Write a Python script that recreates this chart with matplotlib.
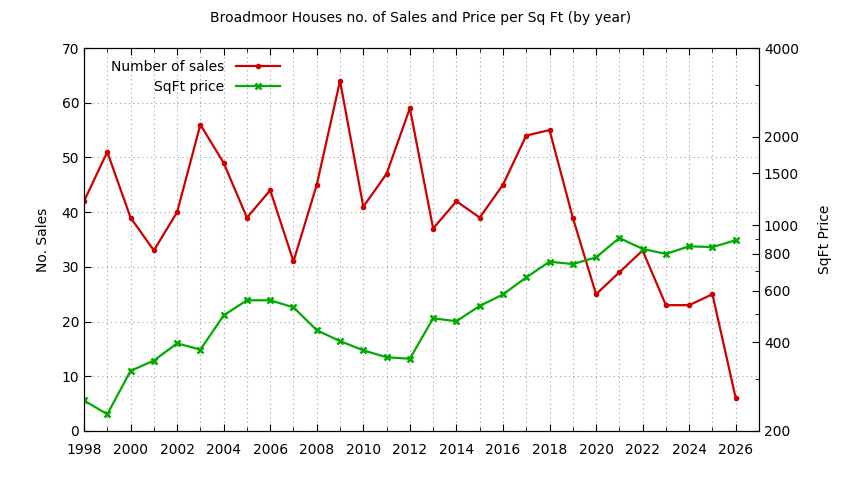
import matplotlib
matplotlib.use("Agg")
import matplotlib.pyplot as plt
from matplotlib.ticker import FixedLocator, NullFormatter, MultipleLocator

years = list(range(1998, 2027))
sales = [42, 51, 39, 33, 40, 56, 49, 39, 44, 31, 45, 64, 41, 47, 59, 37,
         42, 39, 45, 54, 55, 39, 25, 29, 33, 23, 23, 25, 6]
price = [254, 228, 320, 347, 397, 378, 494, 556, 556, 526, 440, 404, 376, 356, 352, 483,
         472, 532, 582, 665, 752, 738, 778, 905, 831, 799, 848, 843, 889]

price_ticks = [200, 400, 600, 800, 1000, 1500, 2000, 4000]
price_minor = [300, 500, 700, 900, 3000]

plt.rcParams['font.family'] = ['DejaVu Sans']
plt.rcParams['font.size'] = 10

fig = plt.figure(figsize=(8.44, 4.8), dpi=100)
ax = fig.add_axes([84/844, 1-431/480, (759-84)/844, (431-48)/480])
ax2 = ax.twinx()

red = '#cc0000'
green = '#00aa00'

l1, = ax.plot(years, sales, color=red, lw=1.6, marker='o', ms=3, label='Number of sales')
l2, = ax2.plot(years, price, color=green, lw=1.6, marker='x', ms=4.5, mew=1.8, label='SqFt price')

ax.set_xlim(1998, 2027)
ax.set_ylim(0, 70)
ax.xaxis.set_major_locator(MultipleLocator(2))
ax.xaxis.set_minor_locator(MultipleLocator(1))
ax.yaxis.set_major_locator(MultipleLocator(10))
ax.tick_params(which='both', direction='in', top=True, right=False, labelsize=10)
ax.tick_params(axis='x', which='major', pad=9)
ax.tick_params(which='major', length=5)
ax.tick_params(which='minor', length=3)
ax.grid(True, which='both', axis='x', color='#a0a0a0', linestyle=(0, (1, 3)), lw=0.8)
ax.grid(True, which='major', axis='y', color='#a0a0a0', linestyle=(0, (1, 3)), lw=0.8)

ax2.set_yscale('log')
ax2.set_ylim(200, 4000)
ax2.yaxis.set_major_locator(FixedLocator(price_ticks))
ax2.yaxis.set_major_formatter(matplotlib.ticker.FixedFormatter([str(t) for t in price_ticks]))
ax2.yaxis.set_minor_locator(FixedLocator(price_minor))
ax2.yaxis.set_minor_formatter(NullFormatter())
ax2.tick_params(which='both', direction='in', labelsize=10)
ax2.tick_params(which='major', length=5)
ax2.tick_params(which='minor', length=3)

ax.set_ylabel('No. Sales', labelpad=8)
ax2.set_ylabel('SqFt Price', rotation=90, labelpad=14)

fig.suptitle('Broadmoor Houses no. of Sales and Price per Sq Ft (by year)', x=421/844, y=1-18/480,
             va='center', fontsize=10)

leg = ax.legend(handles=[l1, l2], loc='upper left', bbox_to_anchor=(0.026, 0.995), frameon=False,
                markerfirst=False, handlelength=3.2, fontsize=10, labelspacing=0.45,
                borderaxespad=0.3)
leg.set_zorder(10)

fig.savefig('out.png', dpi=100)
